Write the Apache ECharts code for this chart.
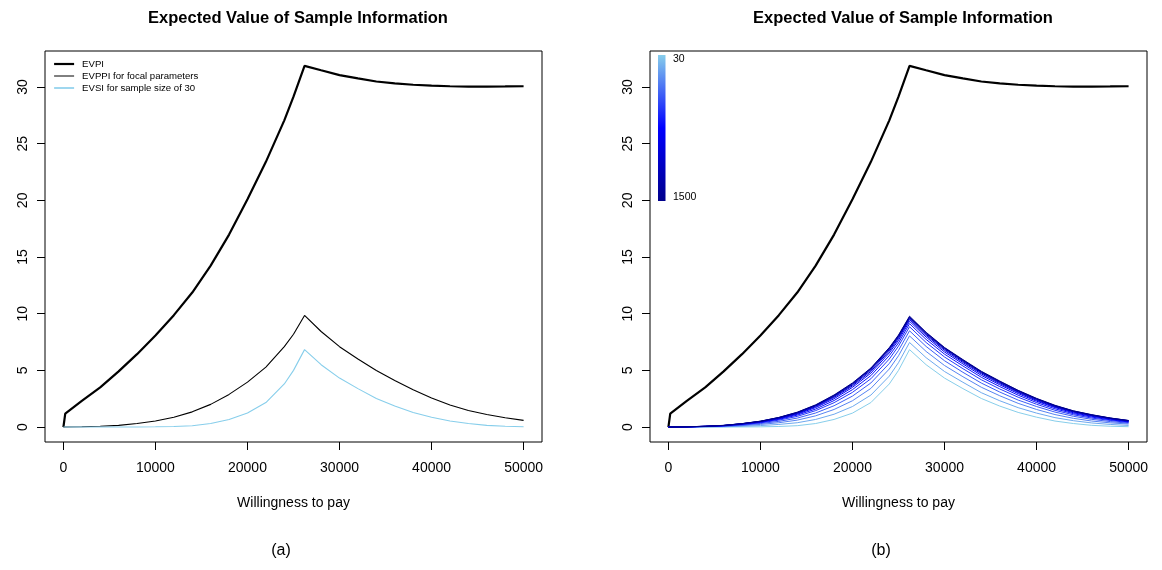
<!DOCTYPE html>
<html>
<head>
<meta charset="utf-8">
<script src="https://cdn.jsdelivr.net/npm/echarts@6/dist/echarts.min.js"></script>
<style>
html,body{margin:0;padding:0;background:#fff;}
#chart{width:1162px;height:570px;}
</style>
</head>
<body>
<div id="chart"></div>
<script>
// ---------------- DATA ----------------
const xTicks = [0, 10000, 20000, 30000, 40000, 50000];
const yTicks = [0, 5, 10, 15, 20, 25, 30];
const wtp = [0, 2000, 4000, 6000, 8000, 10000, 12000, 14000, 16000, 18000, 20000, 22000, 24000, 25000, 26200,
             28000, 30000, 32000, 34000, 36000, 38000, 40000, 42000, 44000, 46000, 48000, 50000];
const wtpEvpi = [0, 200, 2000, 4000, 6000, 8000, 10000, 12000, 14000, 16000, 18000, 20000, 22000, 24000, 25000, 26200,
             28000, 30000, 32000, 34000, 36000, 38000, 40000, 42000, 44000, 46000, 48000, 50000];
const evpi = [0, 1.18, 2.31, 3.50, 4.91, 6.43, 8.07, 9.87, 11.87, 14.24, 16.98, 20.10, 23.40, 27.06, 29.15, 31.87,
              31.48, 31.05, 30.76, 30.49, 30.33, 30.20, 30.12, 30.07, 30.04, 30.04, 30.05, 30.07];
const evppi = [0, 0.02, 0.07, 0.15, 0.31, 0.53, 0.87, 1.34, 2.00, 2.88, 3.96, 5.29, 7.09, 8.19, 9.85,
               8.43, 7.09, 6.01, 4.99, 4.11, 3.29, 2.57, 1.95, 1.46, 1.11, 0.82, 0.59];
const sampleSizes = [30, 42, 60, 85, 120, 170, 240, 340, 480, 680, 1000, 1500];
const evsiN30   = [0, 0, 0, 0, 0.01, 0.02, 0.05, 0.12, 0.31, 0.67, 1.23, 2.16, 3.80, 5.00, 6.83, 5.50, 4.32, 3.39, 2.52, 1.85, 1.29, 0.87, 0.53, 0.31, 0.15, 0.07, 0.03];
const evsiN42   = [0, 0.00, 0.02, 0.03, 0.07, 0.13, 0.23, 0.38, 0.67, 1.13, 1.81, 2.82, 4.49, 5.68, 7.46, 6.12, 4.90, 3.95, 3.03, 2.32, 1.71, 1.23, 0.83, 0.56, 0.36, 0.23, 0.14];
const evsiN60   = [0, 0.01, 0.03, 0.06, 0.13, 0.23, 0.38, 0.61, 0.99, 1.55, 2.32, 3.41, 5.12, 6.29, 8.04, 6.67, 5.43, 4.44, 3.51, 2.76, 2.09, 1.55, 1.10, 0.77, 0.53, 0.37, 0.26];
const evsiN85   = [0, 0.01, 0.04, 0.08, 0.17, 0.31, 0.50, 0.79, 1.24, 1.88, 2.73, 3.89, 5.61, 6.76, 8.49, 7.11, 5.85, 4.83, 3.88, 3.09, 2.38, 1.81, 1.32, 0.95, 0.68, 0.48, 0.34];
const evsiN120  = [0, 0.01, 0.05, 0.10, 0.21, 0.37, 0.61, 0.94, 1.45, 2.15, 3.06, 4.26, 6.00, 7.14, 8.85, 7.46, 6.18, 5.15, 4.17, 3.36, 2.63, 2.01, 1.48, 1.08, 0.79, 0.58, 0.40];
const evsiN170  = [0, 0.02, 0.05, 0.11, 0.24, 0.41, 0.68, 1.05, 1.59, 2.34, 3.30, 4.54, 6.30, 7.42, 9.12, 7.73, 6.43, 5.39, 4.39, 3.57, 2.81, 2.16, 1.61, 1.18, 0.88, 0.64, 0.45];
const evsiN240  = [0, 0.02, 0.06, 0.12, 0.26, 0.45, 0.73, 1.13, 1.72, 2.50, 3.50, 4.76, 6.54, 7.65, 9.33, 7.94, 6.62, 5.57, 4.56, 3.73, 2.95, 2.28, 1.72, 1.26, 0.95, 0.70, 0.49];
const evsiN340  = [0, 0.02, 0.06, 0.13, 0.28, 0.47, 0.77, 1.19, 1.80, 2.61, 3.63, 4.91, 6.70, 7.81, 9.49, 8.08, 6.76, 5.70, 4.69, 3.84, 3.05, 2.36, 1.78, 1.33, 1.00, 0.73, 0.52];
const evsiN480  = [0, 0.02, 0.06, 0.14, 0.29, 0.49, 0.80, 1.23, 1.86, 2.69, 3.72, 5.03, 6.82, 7.92, 9.59, 8.18, 6.86, 5.79, 4.78, 3.92, 3.11, 2.43, 1.83, 1.36, 1.03, 0.76, 0.53];
const evsiN680  = [0, 0.02, 0.07, 0.14, 0.29, 0.50, 0.82, 1.26, 1.90, 2.74, 3.79, 5.11, 6.90, 8.00, 9.66, 8.25, 6.93, 5.86, 4.84, 3.98, 3.17, 2.47, 1.87, 1.39, 1.05, 0.78, 0.56];
const evsiN1000 = [0, 0.02, 0.07, 0.14, 0.30, 0.51, 0.84, 1.29, 1.93, 2.79, 3.84, 5.17, 6.96, 8.06, 9.72, 8.32, 6.98, 5.91, 4.88, 4.02, 3.21, 2.50, 1.89, 1.42, 1.07, 0.79, 0.57];
const evsiN1500 = [0, 0.02, 0.07, 0.15, 0.30, 0.52, 0.85, 1.31, 1.96, 2.83, 3.89, 5.21, 7.01, 8.12, 9.78, 8.36, 7.02, 5.95, 4.92, 4.06, 3.24, 2.53, 1.92, 1.43, 1.09, 0.80, 0.58];
const evsiCurves = [evsiN30, evsiN42, evsiN60, evsiN85, evsiN120, evsiN170, evsiN240, evsiN340, evsiN480, evsiN680, evsiN1000, evsiN1500];
// ---------------- STYLE ----------------
const rampColors = ['#87CEEB', '#6EA9EF', '#5683F2', '#3D5EF6', '#2538FA', '#0C13FD',
                    '#0000F4', '#0000DF', '#0000CA', '#0000B5', '#0000A0', '#00008B'];
const FONT = 'Liberation Sans, Arial, Helvetica, sans-serif';

function pairs(xs, ys) { return xs.map((x, i) => [x, ys[i]]); }

const chart = echarts.init(document.getElementById('chart'), null, {renderer: 'canvas'});

function makeX(i) {
  return {
    type: 'value', gridIndex: i, min: -2000, max: 52000,
    axisLine: {show: false, onZero: false}, splitLine: {show: false},
    axisTick: {show: true, length: 8, lineStyle: {color: '#000', width: 1}, customValues: xTicks},
    axisLabel: {customValues: xTicks, fontSize: 14, color: '#000', fontFamily: FONT, margin: 19,
                formatter: v => String(v)},
    name: 'Willingness to pay', nameLocation: 'middle', nameGap: 54,
    nameTextStyle: {fontSize: 14, color: '#000', fontFamily: FONT}
  };
}
function makeY(i) {
  return {
    type: 'value', gridIndex: i, min: -1.32, max: 33.18,
    axisLine: {show: false, onZero: false}, splitLine: {show: false},
    axisTick: {show: true, length: 8, lineStyle: {color: '#000', width: 1}, customValues: yTicks},
    axisLabel: {customValues: yTicks, fontSize: 14, color: '#000', fontFamily: FONT, rotate: 90, margin: 15,
                formatter: v => String(v)}
  };
}

const series = [
  {name: 'EVPI', type: 'line', xAxisIndex: 0, yAxisIndex: 0, data: pairs(wtpEvpi, evpi),
   symbol: 'none', lineStyle: {color: '#000', width: 2.2}, itemStyle: {color: '#000'}},
  {name: 'EVPPI for focal parameters', type: 'line', xAxisIndex: 0, yAxisIndex: 0, data: pairs(wtp, evppi),
   symbol: 'none', lineStyle: {color: '#000', width: 1.1}, itemStyle: {color: '#000'}},
  {name: 'EVSI for sample size of 30', type: 'line', xAxisIndex: 0, yAxisIndex: 0, data: pairs(wtp, evsiN30),
   symbol: 'none', lineStyle: {color: '#87CEEB', width: 1.1}, itemStyle: {color: '#87CEEB'}},
  {name: 'EVPI (b)', type: 'line', xAxisIndex: 1, yAxisIndex: 1, data: pairs(wtpEvpi, evpi),
   symbol: 'none', lineStyle: {color: '#000', width: 2.2}}
];
evsiCurves.forEach((c, k) => {
  series.push({name: 'EVSI n=' + sampleSizes[k], type: 'line', xAxisIndex: 1, yAxisIndex: 1,
    data: pairs(wtp, c), symbol: 'none', lineStyle: {color: rampColors[k], width: 1}});
});

const option = {
  animation: false,
  backgroundColor: '#fff',
  title: [
    {text: 'Expected Value of Sample Information', left: 293, top: 5, textAlign: 'center',
     textStyle: {fontSize: 16.5, fontWeight: 'bold', color: '#000', fontFamily: FONT}},
    {text: 'Expected Value of Sample Information', left: 898, top: 5, textAlign: 'center',
     textStyle: {fontSize: 16.5, fontWeight: 'bold', color: '#000', fontFamily: FONT}}
  ],
  grid: [
    {left: 45, top: 51, width: 497, height: 391, show: true, borderColor: '#000', borderWidth: 1, containLabel: false},
    {left: 650, top: 51, width: 497, height: 391, show: true, borderColor: '#000', borderWidth: 1, containLabel: false}
  ],
  xAxis: [makeX(0), makeX(1)],
  yAxis: [makeY(0), makeY(1)],
  legend: {
    data: [
      {name: 'EVPI', lineStyle: {width: 2.2}},
      {name: 'EVPPI for focal parameters', lineStyle: {width: 1}},
      {name: 'EVSI for sample size of 30', lineStyle: {width: 1.6}}
    ],
    orient: 'vertical', left: 53, top: 58, padding: 0, itemWidth: 20, itemHeight: 12, itemGap: 0,
    selectedMode: false,
    itemStyle: {opacity: 0},
    textStyle: {fontSize: 9.6, color: '#000', fontFamily: FONT, padding: [0, 0, 0, 3], lineHeight: 12}
  },
  graphic: [
    {type: 'rect', shape: {x: 658, y: 55, width: 7.5, height: 146}, silent: true,
     style: {fill: new echarts.graphic.LinearGradient(0, 0, 0, 1, [
       {offset: 0, color: '#87CEEB'}, {offset: 0.5, color: '#0000FF'}, {offset: 1, color: '#00008B'}])}},
    {type: 'text', x: 673, y: 59, silent: true,
     style: {text: '30', fontSize: 10.5, fill: '#000', fontFamily: FONT, verticalAlign: 'middle'}},
    {type: 'text', x: 673, y: 197, silent: true,
     style: {text: '1500', fontSize: 10.5, fill: '#000', fontFamily: FONT, verticalAlign: 'middle'}},
    {type: 'text', x: 281, y: 551, silent: true,
     style: {text: '(a)', fontSize: 16, fill: '#000', fontFamily: FONT, align: 'center', verticalAlign: 'middle'}},
    {type: 'text', x: 881, y: 551, silent: true,
     style: {text: '(b)', fontSize: 16, fill: '#000', fontFamily: FONT, align: 'center', verticalAlign: 'middle'}}
  ],
  series: series
};
chart.setOption(option);
</script>
</body>
</html>
